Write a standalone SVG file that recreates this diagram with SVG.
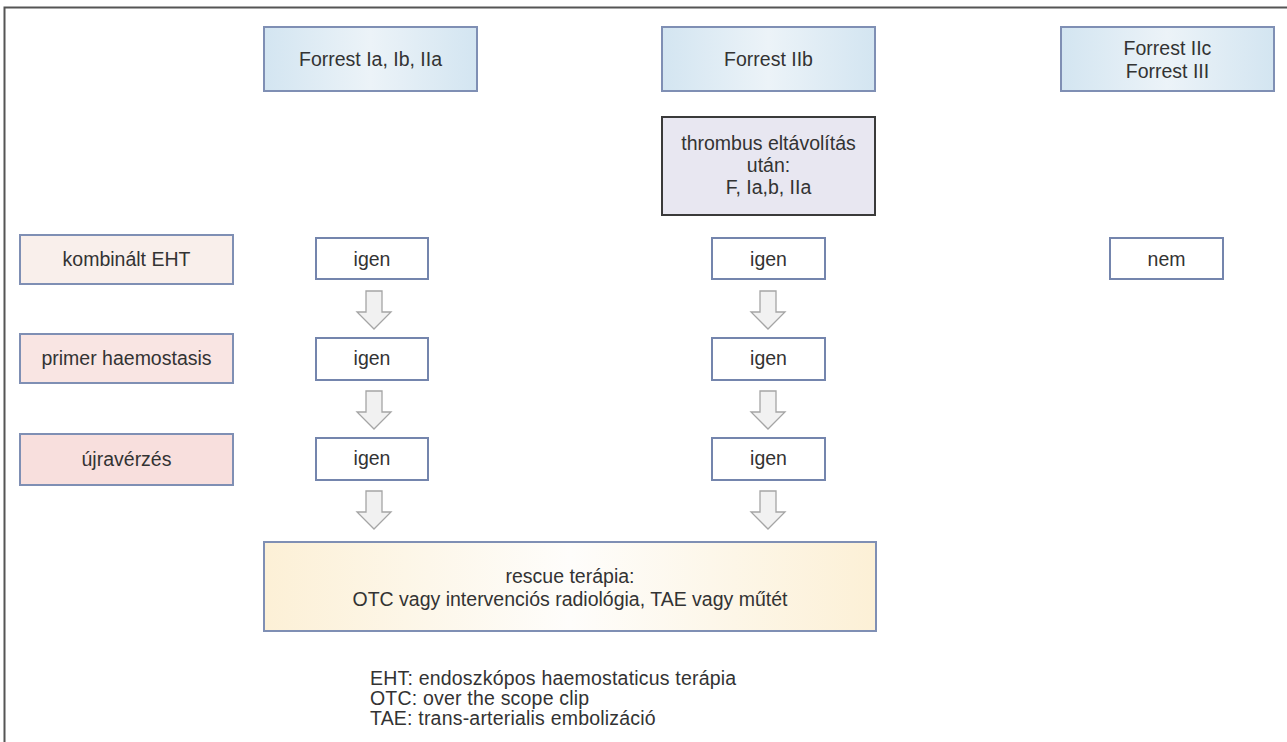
<svg xmlns="http://www.w3.org/2000/svg" width="1287" height="742" viewBox="0 0 1287 742">
<defs>
<linearGradient id="gBlue" x1="0" y1="0" x2="1" y2="0">
<stop offset="0" stop-color="#d3e5f1"/><stop offset="0.5" stop-color="#ecf3f8"/><stop offset="1" stop-color="#d3e5f1"/>
</linearGradient>
<linearGradient id="gCream" x1="0" y1="0" x2="1" y2="0">
<stop offset="0" stop-color="#fcf0d6"/><stop offset="0.5" stop-color="#fefdfb"/><stop offset="1" stop-color="#fcf0d6"/>
</linearGradient>
<path id="arr" d="M-8,0 H8 V21 H17 L0,38 L-17,21 H-8 Z"/>
</defs>
<style>
.t{font-family:"Liberation Sans",Arial,Helvetica,sans-serif;font-size:19.5px;fill:#333;text-anchor:middle}
.lg{font-family:"Liberation Sans",Arial,Helvetica,sans-serif;font-size:19.5px;letter-spacing:0.2px;fill:#333}
.hb{fill:url(#gBlue);stroke:#7f8fb4;stroke-width:2}
.wb{fill:#fff;stroke:#7485ad;stroke-width:2}
.lb{stroke:#7f8fb4;stroke-width:2}
.ar{fill:#f1f1f1;stroke:#a5a5a5;stroke-width:1.3}
</style>
<rect x="0" y="0" width="1287" height="742" fill="#fff"/>
<path d="M4.5,742 V7.5 H1287" fill="none" stroke="#555" stroke-width="2"/>

<g id="forrest-1">
<rect class="hb" x="264" y="27" width="213" height="64"/>
<text class="t" x="370.5" y="66">Forrest Ia, Ib, IIa</text>
</g>
<g id="forrest-2">
<rect class="hb" x="662" y="27" width="213" height="64"/>
<text class="t" x="768.5" y="66">Forrest IIb</text>
</g>
<g id="forrest-3">
<rect class="hb" x="1061" y="27" width="213" height="64"/>
<text class="t" x="1167.5" y="55">Forrest IIc</text>
<text class="t" x="1167.5" y="78">Forrest III</text>
</g>
<g id="thrombus">
<rect x="662" y="117" width="213" height="98" fill="#e8e7f1" stroke="#3a3a3a" stroke-width="2"/>
<text class="t" x="768.5" y="150">thrombus eltávolítás</text>
<text class="t" x="768.5" y="172">után:</text>
<text class="t" x="768.5" y="194">F, Ia,b, IIa</text>
</g>

<g id="label-eht">
<rect class="lb" x="20" y="235" width="213" height="49" fill="#f9efeb"/>
<text class="t" x="126.5" y="266">kombinált EHT</text>
</g>
<g id="label-primer">
<rect class="lb" x="20" y="334" width="213" height="49" fill="#f9e5e3"/>
<text class="t" x="126.5" y="365">primer haemostasis</text>
</g>
<g id="label-ujra">
<rect class="lb" x="20" y="434" width="213" height="51" fill="#f8dfdd"/>
<text class="t" x="126.5" y="466">újravérzés</text>
</g>

<g id="c1-eht"><rect class="wb" x="316" y="238" width="112" height="41"/><text class="t" x="372" y="266">igen</text></g>
<g id="c1-primer"><rect class="wb" x="316" y="338" width="112" height="42"/><text class="t" x="372" y="365">igen</text></g>
<g id="c1-ujra"><rect class="wb" x="316" y="438" width="112" height="42"/><text class="t" x="372" y="465">igen</text></g>
<g id="c2-eht"><rect class="wb" x="712" y="238" width="113" height="41"/><text class="t" x="768.5" y="266">igen</text></g>
<g id="c2-primer"><rect class="wb" x="712" y="338" width="113" height="42"/><text class="t" x="768.5" y="365">igen</text></g>
<g id="c2-ujra"><rect class="wb" x="712" y="438" width="113" height="42"/><text class="t" x="768.5" y="465">igen</text></g>
<g id="c3-eht"><rect class="wb" x="1110" y="238" width="113" height="41"/><text class="t" x="1166.5" y="266">nem</text></g>

<g id="rescue">
<rect class="lb" x="264" y="542" width="612" height="89" fill="url(#gCream)"/>
<text class="t" x="570" y="583">rescue terápia:</text>
<text class="t" x="570" y="606">OTC vagy intervenciós radiológia, TAE vagy műtét</text>
</g>

<g id="connectors">
<use href="#arr" class="ar" x="374" y="291"/>
<use href="#arr" class="ar" x="374" y="391"/>
<use href="#arr" class="ar" x="374" y="491"/>
<use href="#arr" class="ar" x="768" y="291"/>
<use href="#arr" class="ar" x="768" y="391"/>
<use href="#arr" class="ar" x="768" y="491"/>
</g>

<g id="legend">
<text class="lg" x="370" y="685">EHT: endoszkópos haemostaticus terápia</text>
<text class="lg" x="370" y="705">OTC: over the scope clip</text>
<text class="lg" x="370" y="725">TAE: trans-arterialis embolizáció</text>
</g>
</svg>
